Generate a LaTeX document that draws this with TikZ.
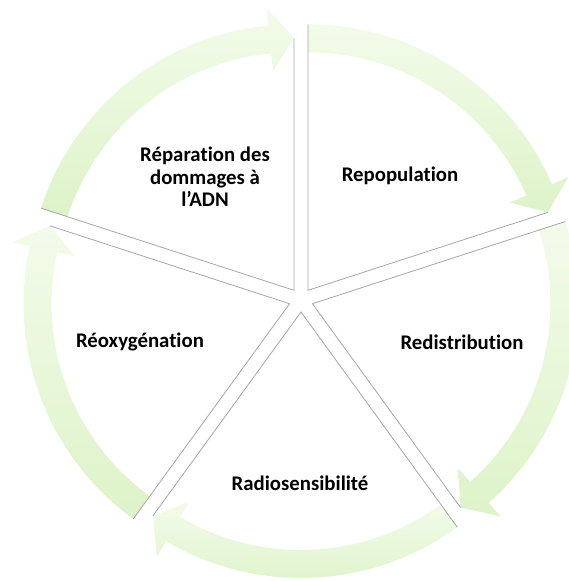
\documentclass[tikz,border=0pt]{standalone}
\usepackage{fontspec}
\setmainfont{Carlito}[Ligatures=NoCommon]
\definecolor{arrowpale}{HTML}{F3FBEA}
\definecolor{arrowgreen}{HTML}{DDF3C8}
\tikzset{
  arrowband/.style={top color=arrowpale, bottom color=arrowgreen},
  wedgeedge/.style={draw=gray!70, line width=0.8pt},
  phase/.style={font=\fontsize{20.8}{22.5}\selectfont\bfseries, align=center, inner sep=0pt}
}
\begin{document}
\begin{tikzpicture}[x=1pt,y=1pt]
\useasboundingbox (0,0) rectangle (569,581);
\coordinate (cen) at (301,281);
\foreach \b in {126,54,-18,-90,-162}{
  \begin{scope}[shift={(cen)},shift={(\b:12)}]
    \pgfmathsetmacro\aa{\b+36}
    \pgfmathsetmacro\ab{\b-36}
    \pgfmathsetmacro\ah{\b-30.5}
    \shade[arrowband] (\aa:238) -- (\aa:266) arc[start angle=\aa, end angle=\ah, radius=266]
      -- (\ah:284) -- (\ab:252) -- (\ah:220) -- (\ah:238) arc[start angle=\ah, end angle=\aa, radius=238] -- cycle;
    \draw[wedgeedge] (\aa:266) -- (0,0) -- (\ab:252);
  \end{scope}
}
\node[phase] (repar) at (205,404) {Réparation des\\dommages à\\l’ADN};
\node[phase] (repop) at (400,405) {Repopulation};
\node[phase] (redis) at (462,239) {Redistribution};
\node[phase] (radio) at (300,98) {Radiosensibilité};
\node[phase] (reoxy) at (140,239) {Réoxygénation};
\end{tikzpicture}
\end{document}
